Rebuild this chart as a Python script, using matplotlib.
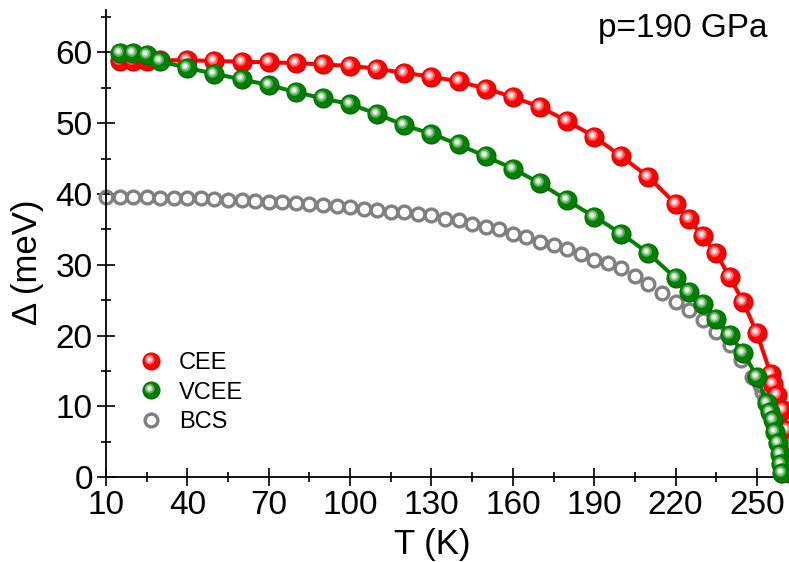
import numpy as np
import matplotlib
matplotlib.use("Agg")
import matplotlib.pyplot as plt
import matplotlib.colors as mcolors
from matplotlib.path import Path
from matplotlib.lines import Line2D
from matplotlib.legend_handler import HandlerTuple

plt.rcParams['font.family'] = ['Liberation Sans', 'DejaVu Sans']

# ---- data (T in K, gap in meV) ----
T_cee = [15, 20, 25, 30, 40, 50, 60, 70, 80, 90, 100, 110, 120, 130, 140, 150,
         160, 170, 180, 190, 200, 210, 220, 225, 230, 235, 240, 245, 250,
         255, 256, 257.5, 259.5, 261, 261.4, 261.6, 261.7]
D_cee = [58.8, 58.8, 58.8, 58.9, 58.9, 58.8, 58.7, 58.6, 58.5, 58.3, 58.1, 57.7,
         57.1, 56.6, 55.9, 54.9, 53.7, 52.3, 50.3, 48.1, 45.3, 42.4, 38.6, 36.4,
         34.0, 31.6, 28.2, 24.7, 20.3, 14.6, 13.2, 11.6, 9.5, 6.6, 4.5, 2.5, 0.5]

T_vcee = [15, 20, 25, 30, 40, 50, 60, 70, 80, 90, 100, 110, 120, 130, 140, 150,
          160, 170, 180, 190, 200, 210, 220, 225, 230, 235, 240, 245, 250,
          253.6, 254.8, 255.8, 256.6, 257.8, 258.5, 258.8, 259.1]
D_vcee = [59.9, 59.9, 59.7, 58.8, 57.8, 57.0, 56.2, 55.4, 54.4, 53.5, 52.7, 51.3,
          49.7, 48.5, 47.0, 45.3, 43.6, 41.5, 39.1, 36.8, 34.4, 31.6, 28.1, 26.2,
          24.5, 22.4, 20.1, 17.5, 14.2, 10.4, 9.2, 8.1, 6.4, 4.8, 3.3, 1.9, 0.5]

T_bcs = [10, 15, 20, 25, 30, 35, 40, 45, 50, 55, 60, 65, 70, 75, 80, 85, 90, 95,
         100, 105, 110, 115, 120, 125, 130, 135, 140, 145, 150, 155, 160, 165,
         170, 175, 180, 185, 190, 195, 200, 205, 210, 215, 220, 225, 230, 235,
         240, 244, 248, 251, 252, 253, 254, 255, 256, 257, 258, 258.5, 259]
D_bcs = [39.6, 39.6, 39.6, 39.6, 39.5, 39.5, 39.5, 39.4, 39.3, 39.2, 39.1, 39.0,
         38.9, 38.8, 38.7, 38.6, 38.4, 38.3, 38.1, 37.9, 37.7, 37.5, 37.4, 37.2,
         37.0, 36.5, 36.3, 35.8, 35.4, 35.0, 34.4, 33.9, 33.2, 32.8, 32.2, 31.5,
         30.7, 30.2, 29.5, 28.4, 27.3, 26.0, 24.8, 23.6, 22.2, 20.5, 18.6, 16.5,
         14.2, 13.0, 12.0, 11.0, 9.9, 8.7, 7.3, 5.6, 3.5, 2.0, 0.3]

x_ticks = [10, 40, 70, 100, 130, 160, 190, 220, 250]
y_ticks = [0, 10, 20, 30, 40, 50, 60]


def disc(cx, cy, r):
    # circle marker path, padded so matplotlib does not rescale it
    c = Path.circle((cx, cy), r)
    v = np.vstack([c.vertices, [[-0.5, -0.5], [0.5, 0.5]]])
    k = np.concatenate([c.codes, [Path.MOVETO, Path.MOVETO]])
    return Path(v, k)


def sphere_layers(color):
    rgb = np.array(mcolors.to_rgb(color))
    return [(disc(0, 0, 0.5), rgb * 0.85),
            (disc(-0.03, 0.03, 0.45), rgb),
            (disc(-0.1, 0.1, 0.27), rgb + (1 - rgb) * 0.35),
            (disc(-0.11, 0.11, 0.18), rgb + (1 - rgb) * 0.7),
            (disc(-0.12, 0.12, 0.10), rgb + (1 - rgb) * 0.95)]


def plot_spheres(ax, x, y, color, ms, z):
    layers = sphere_layers(color)
    for i, (xi, yi) in enumerate(zip(x, y)):
        for j, (p, c) in enumerate(layers):
            ax.plot([xi], [yi], ls='none', marker=p, ms=ms, mfc=c, mec='none',
                    mew=0, zorder=z + i * 0.001 + j * 0.0001, clip_on=False)


def sphere_handle(color, ms):
    return tuple(Line2D([], [], ls='none', marker=p, ms=ms, mfc=c, mec='none', mew=0)
                 for p, c in sphere_layers(color))


red = '#ff0000'
green = '#008000'
grey = '#808080'

fig = plt.figure(figsize=(7.89, 5.62), dpi=100)
ax = fig.add_axes([0.1343, 0.1512, 0.8657, 0.8310])

ax.plot(T_bcs, D_bcs, ls='none', marker='o', ms=9.2, mfc='none', mec=grey,
        mew=2.4, zorder=2, clip_on=False)
ax.plot(T_cee, D_cee, color=red, lw=2.9, zorder=3, clip_on=False)
plot_spheres(ax, T_cee, D_cee, red, 14.5, 3.1)
ax.plot(T_vcee, D_vcee, color=green, lw=2.9, zorder=4, clip_on=False)
plot_spheres(ax, T_vcee, D_vcee, green, 14.5, 4.1)

ax.set_xlim(10, 261.8)
ax.set_ylim(0, 66)
ax.set_xticks(x_ticks)
ax.set_xticks([t + 15 for t in x_ticks[:-1]], minor=True)
ax.set_yticks(y_ticks)
ax.set_yticks([v + 5 for v in y_ticks], minor=True)

for s in ['top', 'right']:
    ax.spines[s].set_visible(False)
for s in ['left', 'bottom']:
    ax.spines[s].set_linewidth(1.3)

ax.tick_params(which='major', direction='inout', length=13, width=1.2,
               labelsize=24, pad=3)
ax.tick_params(which='minor', direction='inout', length=6.5, width=1.2)

ax.set_xlabel('T (K)', fontsize=25)
ax.set_ylabel('Δ (meV)', fontsize=25)
ax.xaxis.set_label_coords(0.477, -0.109)
ax.yaxis.set_label_coords(-0.09, 0.46)

fig.text(767 / 789, 0.9347, 'p=190 GPa', fontsize=24, ha='right', va='baseline')

h_bcs = Line2D([], [], ls='none', marker='o', ms=9.2, mfc='none', mec=grey, mew=2.4)
ax.legend([sphere_handle(red, 13), sphere_handle(green, 13), h_bcs],
          ['CEE', 'VCEE', 'BCS'],
          handler_map={tuple: HandlerTuple(ndivide=1, pad=0)},
          loc='upper left', bbox_to_anchor=(139 / 789, 1 - 352 / 562),
          bbox_transform=fig.transFigure, frameon=False, fontsize=17,
          handlelength=1.0, handletextpad=0.7, labelspacing=0.32,
          borderpad=0, borderaxespad=0)

fig.savefig('out.png', dpi=100)
